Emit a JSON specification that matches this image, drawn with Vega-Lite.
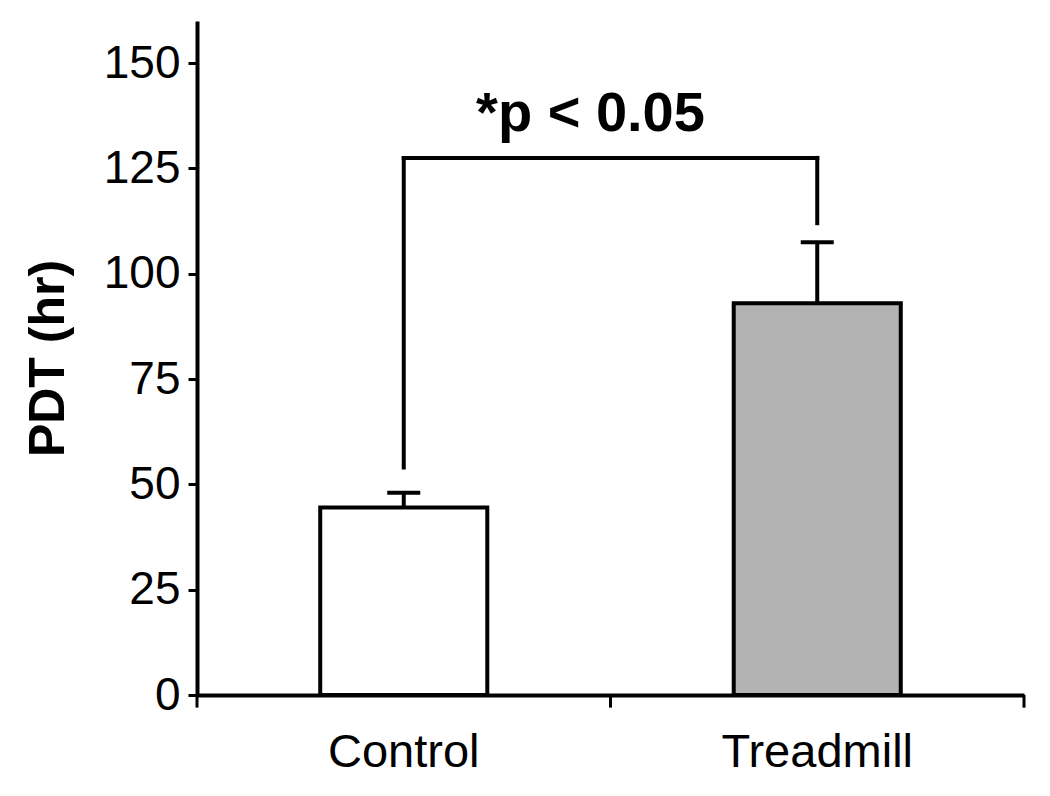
{
  "$schema": "https://vega.github.io/schema/vega-lite/v6.json",
  "width": 827,
  "height": 674,
  "autosize": "none",
  "padding": {"left": 197, "top": 21, "right": 26, "bottom": 101},
  "background": "white",
  "config": {"view": {"stroke": null}, "font": "Liberation Sans"},
  "datasets": {
    "bars": [
      {"group": "Control", "pdt": 44.5, "upper": 48},
      {"group": "Treadmill", "pdt": 93, "upper": 107.5}
    ],
    "vbracket": [
      {"group": "Control", "low": 54, "high": 127.5},
      {"group": "Treadmill", "low": 112, "high": 127.5}
    ],
    "hbracket": [
      {"group": "Control", "group2": "Treadmill", "level": 127.5}
    ],
    "note": [
      {"group": "Control", "label": "*p < 0.05", "level": 134}
    ],
    "ticks": [
      {"group": "Control"},
      {"group": "Treadmill"}
    ]
  },
  "layer": [
    {
      "data": {"name": "bars"},
      "mark": {"type": "bar", "stroke": "black", "strokeWidth": 4, "width": {"band": 0.404}},
      "encoding": {
        "x": {
          "field": "group", "type": "nominal",
          "scale": {"domain": ["Control", "Treadmill"], "paddingInner": 0, "paddingOuter": 0},
          "axis": {"title": null, "labelAngle": 0, "labelFontSize": 47, "labelColor": "black", "labelFont": "Liberation Sans",
                   "labelLimit": 0, "ticks": false, "labelPadding": 34, "domainColor": "black", "domainWidth": 4, "grid": false}
        },
        "y": {
          "field": "pdt", "type": "quantitative",
          "scale": {"domain": [0, 160], "nice": false},
          "axis": {"title": "PDT (hr)", "titleFontSize": 50, "titleFontWeight": "bold", "titleColor": "black", "titleFont": "Liberation Sans",
                   "titlePadding": 30, "values": [0, 25, 50, 75, 100, 125, 150], "labelFontSize": 46, "labelColor": "black",
                   "labelFont": "Liberation Sans", "tickSize": 9, "tickWidth": 3, "tickColor": "black", "domainColor": "black",
                   "domainWidth": 4, "labelPadding": 8, "grid": false}
        },
        "color": {"field": "group", "type": "nominal", "scale": {"domain": ["Control", "Treadmill"], "range": ["#ffffff", "#b3b3b3"]}, "legend": null}
      }
    },
    {
      "data": {"name": "bars"},
      "mark": {"type": "rule", "strokeWidth": 4, "color": "black"},
      "encoding": {
        "x": {"field": "group", "type": "nominal"},
        "y": {"field": "pdt", "type": "quantitative"},
        "y2": {"field": "upper"}
      }
    },
    {
      "data": {"name": "bars"},
      "mark": {"type": "tick", "size": 33, "thickness": 4, "color": "black", "opacity": 1},
      "encoding": {
        "x": {"field": "group", "type": "nominal"},
        "y": {"field": "upper", "type": "quantitative"}
      }
    },
    {
      "data": {"name": "vbracket"},
      "mark": {"type": "rule", "strokeWidth": 4, "color": "black", "strokeCap": "square"},
      "encoding": {
        "x": {"field": "group", "type": "nominal"},
        "y": {"field": "low", "type": "quantitative"},
        "y2": {"field": "high"}
      }
    },
    {
      "data": {"name": "hbracket"},
      "mark": {"type": "rule", "strokeWidth": 4, "color": "black", "strokeCap": "square"},
      "encoding": {
        "x": {"field": "group", "type": "nominal"},
        "x2": {"field": "group2"},
        "y": {"field": "level", "type": "quantitative"}
      }
    },
    {
      "data": {"name": "note"},
      "mark": {"type": "text", "fontSize": 56, "fontWeight": "bold", "font": "Liberation Sans", "color": "black", "align": "center", "baseline": "alphabetic", "dx": -20},
      "encoding": {
        "x": {"field": "group", "type": "nominal", "bandPosition": 1},
        "y": {"field": "level", "type": "quantitative"},
        "text": {"field": "label"}
      }
    },
    {
      "data": {"name": "ticks"},
      "mark": {"type": "rule", "strokeWidth": 3, "color": "black"},
      "encoding": {
        "x": {"field": "group", "type": "nominal", "bandPosition": 0},
        "y": {"datum": 0, "type": "quantitative"},
        "y2": {"datum": -3}
      }
    },
    {
      "data": {"name": "ticks"},
      "transform": [{"filter": "datum.group == 'Treadmill'"}],
      "mark": {"type": "rule", "strokeWidth": 3, "color": "black"},
      "encoding": {
        "x": {"field": "group", "type": "nominal", "bandPosition": 1},
        "y": {"datum": 0, "type": "quantitative"},
        "y2": {"datum": -3}
      }
    }
  ]
}
